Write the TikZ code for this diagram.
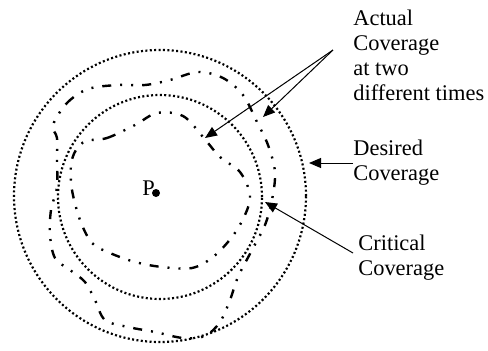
\documentclass[tikz,border=0pt]{standalone}
\usepackage{fontspec}
\setmainfont{Liberation Serif}
\usetikzlibrary{arrows.meta}
\tikzset{
  every picture/.style={font=\fontsize{11.2pt}{12.5pt}\selectfont},
  cov ring/.style={line width=1.1pt, dash pattern=on 1pt off 1.2pt},
  cov actual/.style={line width=1.2pt,
    dash pattern=on 4.5pt off 4.5pt on 1pt off 4.5pt on 1pt off 4.5pt},
  cov arrow/.style={-{Triangle[length=6pt,width=5pt]}, line width=0.5pt},
  cov label/.style={align=left, anchor=base west, inner sep=0pt},
  cov point/.style={circle, fill, inner sep=0pt, minimum size=4pt}
}

\begin{document}
\begin{tikzpicture}[x=0.5pt,y=0.5pt]
  \useasboundingbox (0,0) rectangle (488,350);
  % desired and critical coverage
  \draw[cov ring] (160,154) circle[radius=146];
  \draw[cov ring] (160,153) circle[radius=102];
  % actual coverage, two times
  \draw[cov actual] plot[smooth cycle, tension=0.55] coordinates {
    (53,225) (67,247) (88,261) (118,265) (145,265) (170,270) (198,278)
    (223,272) (243,255) (257,228) (268,205) (275,178) (272,150) (265,125)
    (252,100) (238,73) (230,50) (220,28) (205,14) (183,12) (155,18)
    (128,23) (105,30) (95,50) (85,68) (70,80) (55,92) (50,115) (51,140)
    (57,163) (57,190) (57,212)};
  \draw[cov actual] plot[smooth cycle, tension=0.55] coordinates {
    (86,209) (107,212) (135,225) (157,237) (183,234) (203,213) (220,193)
    (240,178) (250,155) (245,135) (232,113) (213,93) (192,82) (162,83)
    (135,88) (110,97) (92,107) (80,130) (72,160) (71,185) (76,200)};
  % point P
  \node[cov point] (pdot) at (156,157) {};
  \node[cov label] (p) at (142,155) {P};
  % labels (base = last line)
  \node[cov label] (actual) at (353,250) {Actual\\Coverage\\at two\\different times};
  \node[cov label] (desired) at (353,170) {Desired\\Coverage};
  \node[cov label] (critical) at (358,75) {Critical\\Coverage};
  % arrows
  \coordinate (actual src) at (333,300);
  \coordinate (inner hit) at (205,212);
  \coordinate (outer hit) at (263,233);
  \coordinate (desired src) at (353,187);
  \coordinate (desired hit) at (309,187);
  \coordinate (critical src) at (353,97);
  \coordinate (critical hit) at (265,148);
  \draw[cov arrow] (actual src) -- (inner hit);
  \draw[cov arrow] (actual src) -- (outer hit);
  \draw[cov arrow] (desired src) -- (desired hit);
  \draw[cov arrow] (critical src) -- (critical hit);
\end{tikzpicture}
\end{document}
